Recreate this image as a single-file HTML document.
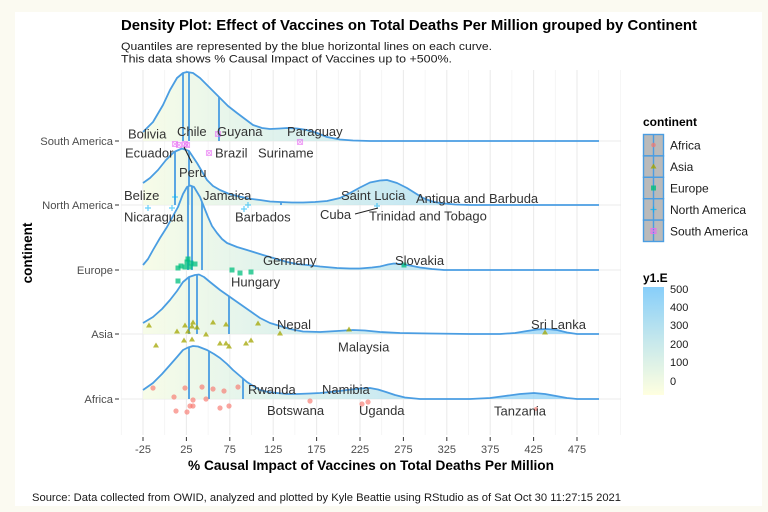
<!DOCTYPE html>
<html><head><meta charset="utf-8"><style>
html,body{margin:0;padding:0;background:#fbfaf1;}
svg{display:block;font-family:"Liberation Sans",Arial,sans-serif;}
</style></head><body>
<svg width="768" height="512" viewBox="0 0 768 512" xmlns="http://www.w3.org/2000/svg">
<defs>
<linearGradient id="fg" gradientUnits="userSpaceOnUse" x1="99" y1="0" x2="608" y2="0">
<stop offset="0" stop-color="#FFFFE0"/><stop offset="0.5" stop-color="#C6E8EC"/><stop offset="1" stop-color="#87CEFA"/>
</linearGradient>
<linearGradient id="cb" x1="0" y1="1" x2="0" y2="0">
<stop offset="0" stop-color="#FFFFE0"/><stop offset="0.5" stop-color="#C6E8EC"/><stop offset="1" stop-color="#87CEFA"/>
</linearGradient>
</defs>
<rect x="0" y="0" width="768" height="512" fill="#fbfaf1"/>
<rect x="15" y="12" width="747" height="494" fill="#ffffff"/>

<!-- grid -->
<g stroke="#f3f3f3" stroke-width="0.8">
<line x1="121.3" y1="70" x2="121.3" y2="435"/><line x1="164.7" y1="70" x2="164.7" y2="435"/><line x1="208.1" y1="70" x2="208.1" y2="435"/><line x1="251.5" y1="70" x2="251.5" y2="435"/><line x1="294.9" y1="70" x2="294.9" y2="435"/><line x1="338.3" y1="70" x2="338.3" y2="435"/><line x1="381.7" y1="70" x2="381.7" y2="435"/><line x1="425.1" y1="70" x2="425.1" y2="435"/><line x1="468.5" y1="70" x2="468.5" y2="435"/><line x1="511.9" y1="70" x2="511.9" y2="435"/><line x1="555.3" y1="70" x2="555.3" y2="435"/><line x1="598.7" y1="70" x2="598.7" y2="435"/><line x1="620.4" y1="70" x2="620.4" y2="435"/>
</g>
<g stroke="#ebebeb" stroke-width="1.1">
<line x1="143" y1="70" x2="143" y2="435"/><line x1="186.4" y1="70" x2="186.4" y2="435"/><line x1="229.8" y1="70" x2="229.8" y2="435"/><line x1="273.2" y1="70" x2="273.2" y2="435"/><line x1="316.6" y1="70" x2="316.6" y2="435"/><line x1="360" y1="70" x2="360" y2="435"/><line x1="403.4" y1="70" x2="403.4" y2="435"/><line x1="446.8" y1="70" x2="446.8" y2="435"/><line x1="490.2" y1="70" x2="490.2" y2="435"/><line x1="533.6" y1="70" x2="533.6" y2="435"/><line x1="577" y1="70" x2="577" y2="435"/>
<line x1="121" y1="141" x2="621" y2="141"/><line x1="121" y1="205" x2="621" y2="205"/><line x1="121" y1="270" x2="621" y2="270"/><line x1="121" y1="334" x2="621" y2="334"/><line x1="121" y1="399" x2="621" y2="399"/>
</g>

<!-- South America ridge -->
<g>
<path fill="url(#fg)" fill-opacity="0.8" d="M143,132 L153,122 L163,105 L170,90 L177,78 L183,73 L187,72 L193,73 L200,78 L210,88 L220,98 L228,106 L237,113 L245,119 L253,125 L262,128 L270,129 L280,128.5 L287,128 L297,128.5 L307,130 L317,133 L327,137 L340,139.5 L353,140.5 L370,141 L599,141 L143,141 Z"/>
<g stroke="#4a9de2" stroke-width="1.8"><line x1="183" y1="141" x2="183" y2="73"/><line x1="189" y1="141" x2="189" y2="72"/><line x1="219" y1="141" x2="219" y2="97"/></g>
<path fill="none" stroke="#4a9de2" stroke-width="1.8" stroke-linejoin="round" d="M143,132 L153,122 L163,105 L170,90 L177,78 L183,73 L187,72 L193,73 L200,78 L210,88 L220,98 L228,106 L237,113 L245,119 L253,125 L262,128 L270,129 L280,128.5 L287,128 L297,128.5 L307,130 L317,133 L327,137 L340,139.5 L353,140.5 L370,141 L599,141"/>
</g>
<!-- North America ridge -->
<g>
<path fill="url(#fg)" fill-opacity="0.8" d="M143,183 L150,178 L158,170 L166,160 L174,152 L182,148.5 L189,151 L197,163 L207,180 L213,186 L220,190 L228,193.5 L237,196 L248,198.5 L260,200 L270,201.5 L280,202 L292,202.5 L303,202.5 L315,202 L327,201 L340,198 L350,193 L360,187.5 L370,182.5 L380,180.5 L387,180 L397,183 L407,188 L415,193 L423,198 L432,201.5 L440,203 L455,204.5 L470,205 L599,205 L143,205 Z"/>
<g stroke="#4a9de2" stroke-width="1.8"><line x1="175" y1="205" x2="175" y2="151.5"/><line x1="189" y1="205" x2="189" y2="151"/><line x1="281" y1="205" x2="281" y2="202"/></g>
<path fill="none" stroke="#4a9de2" stroke-width="1.8" stroke-linejoin="round" d="M143,183 L150,178 L158,170 L166,160 L174,152 L182,148.5 L189,151 L197,163 L207,180 L213,186 L220,190 L228,193.5 L237,196 L248,198.5 L260,200 L270,201.5 L280,202 L292,202.5 L303,202.5 L315,202 L327,201 L340,198 L350,193 L360,187.5 L370,182.5 L380,180.5 L387,180 L397,183 L407,188 L415,193 L423,198 L432,201.5 L440,203 L455,204.5 L470,205 L599,205"/>
</g>
<!-- Europe ridge -->
<g>
<path fill="url(#fg)" fill-opacity="0.8" d="M143,265 L148,259 L153,250 L160,238 L167,227 L173,216 L178,207 L183,194 L187,187 L190,185.5 L194,187 L200,197 L204,207 L208,217 L212,226 L217,233 L222,239 L227,243 L237,247 L247,250 L255,252.5 L263,255 L275,258.5 L287,262 L297,264 L307,265 L320,266.5 L337,268 L350,268.5 L360,268.5 L372,267.5 L380,266.5 L388,264.5 L394,263.5 L400,264 L410,265.5 L420,267.5 L432,269 L444,270 L599,270 L143,270 Z"/>
<g stroke="#4a9de2" stroke-width="1.8"><line x1="188" y1="270" x2="188" y2="186.5"/><line x1="192" y1="270" x2="192" y2="186"/><line x1="202" y1="270" x2="202" y2="202"/></g>
<path fill="none" stroke="#4a9de2" stroke-width="1.8" stroke-linejoin="round" d="M143,265 L148,259 L153,250 L160,238 L167,227 L173,216 L178,207 L183,194 L187,187 L190,185.5 L194,187 L200,197 L204,207 L208,217 L212,226 L217,233 L222,239 L227,243 L237,247 L247,250 L255,252.5 L263,255 L275,258.5 L287,262 L297,264 L307,265 L320,266.5 L337,268 L350,268.5 L360,268.5 L372,267.5 L380,266.5 L388,264.5 L394,263.5 L400,264 L410,265.5 L420,267.5 L432,269 L444,270 L599,270"/>
</g>
<!-- Asia ridge -->
<g>
<path fill="url(#fg)" fill-opacity="0.8" d="M143,323 L153,317 L162,309 L170,300 L177,291 L183,282 L189,277 L195,275 L199,274.5 L204,277 L210,282 L220,290 L230,297 L240,304 L250,311 L260,318 L270,323 L280,326 L290,329 L303,331.5 L320,332 L337,331 L353,330 L365,330.5 L380,332 L400,333 L430,333.5 L470,334 L500,334 L515,333 L527,331 L537,329.5 L547,329 L557,330 L567,332.5 L577,334 L599,334 L143,334 Z"/>
<g stroke="#4a9de2" stroke-width="1.8"><line x1="189" y1="334" x2="189" y2="277"/><line x1="197" y1="334" x2="197" y2="274.5"/><line x1="229" y1="334" x2="229" y2="296.5"/></g>
<path fill="none" stroke="#4a9de2" stroke-width="1.8" stroke-linejoin="round" d="M143,323 L153,317 L162,309 L170,300 L177,291 L183,282 L189,277 L195,275 L199,274.5 L204,277 L210,282 L220,290 L230,297 L240,304 L250,311 L260,318 L270,323 L280,326 L290,329 L303,331.5 L320,332 L337,331 L353,330 L365,330.5 L380,332 L400,333 L430,333.5 L470,334 L500,334 L515,333 L527,331 L537,329.5 L547,329 L557,330 L567,332.5 L577,334 L599,334"/>
</g>
<!-- Africa ridge -->
<g>
<path fill="url(#fg)" fill-opacity="0.8" d="M143,390 L153,383 L162,374 L170,365 L177,357 L183,350 L188,347.5 L193,346 L198,346.5 L207,350 L214,354 L220,358 L227,364 L233,370 L240,376 L247,382 L254,386.5 L260,390 L268,392 L277,393 L287,394 L297,394 L310,393.5 L320,393 L335,391.5 L347,390 L360,388.5 L370,388 L378,389.5 L386,392 L395,395 L405,397.5 L420,399 L470,399 L490,398 L505,396 L520,394 L534,393 L545,394 L556,396 L567,398 L577,399 L599,399 L143,399 Z"/>
<g stroke="#4a9de2" stroke-width="1.8"><line x1="189" y1="399" x2="189" y2="347"/><line x1="209" y1="399" x2="209" y2="351"/><line x1="243" y1="399" x2="243" y2="378.5"/></g>
<path fill="none" stroke="#4a9de2" stroke-width="1.8" stroke-linejoin="round" d="M143,390 L153,383 L162,374 L170,365 L177,357 L183,350 L188,347.5 L193,346 L198,346.5 L207,350 L214,354 L220,358 L227,364 L233,370 L240,376 L247,382 L254,386.5 L260,390 L268,392 L277,393 L287,394 L297,394 L310,393.5 L320,393 L335,391.5 L347,390 L360,388.5 L370,388 L378,389.5 L386,392 L395,395 L405,397.5 L420,399 L470,399 L490,398 L505,396 L520,394 L534,393 L545,394 L556,396 L567,398 L577,399 L599,399"/>
</g>

<!-- points: Africa -->
<g fill="#F8766D" fill-opacity="0.65">
<circle cx="153" cy="388" r="2.6"/><circle cx="185" cy="388" r="2.6"/><circle cx="202" cy="387" r="2.6"/><circle cx="213" cy="389" r="2.6"/><circle cx="224" cy="391" r="2.6"/><circle cx="238" cy="387" r="2.6"/><circle cx="174" cy="397" r="2.6"/><circle cx="193" cy="400" r="2.6"/><circle cx="206" cy="399" r="2.6"/><circle cx="176" cy="411" r="2.6"/><circle cx="187" cy="412" r="2.6"/><circle cx="190" cy="406" r="2.6"/><circle cx="193" cy="406" r="2.6"/><circle cx="220" cy="408" r="2.6"/><circle cx="229" cy="406" r="2.6"/><circle cx="310" cy="401" r="2.6"/><circle cx="362" cy="404" r="2.6"/><circle cx="368" cy="402" r="2.6"/><circle cx="536" cy="409" r="2"/>
</g>
<!-- points: Asia -->
<g fill="#A3A500" fill-opacity="0.75">
<path d="M149,322.5 l3,5 h-6 z"/><path d="M185,322.5 l3,5 h-6 z"/><path d="M177,328.5 l3,5 h-6 z"/><path d="M193,319.5 l3,5 h-6 z"/><path d="M192,323.5 l3,5 h-6 z"/><path d="M197,324.5 l3,5 h-6 z"/><path d="M188,328.5 l3,5 h-6 z"/><path d="M213,319.5 l3,5 h-6 z"/><path d="M226,321.5 l3,5 h-6 z"/><path d="M206,331.5 l3,5 h-6 z"/><path d="M258,320.5 l3,5 h-6 z"/><path d="M280,330.5 l3,5 h-6 z"/><path d="M349,326.5 l3,5 h-6 z"/><path d="M156,342.5 l3,5 h-6 z"/><path d="M184,337.5 l3,5 h-6 z"/><path d="M192,336.5 l3,5 h-6 z"/><path d="M220,340.5 l3,5 h-6 z"/><path d="M226,340.5 l3,5 h-6 z"/><path d="M229,343.5 l3,5 h-6 z"/><path d="M246,340.5 l3,5 h-6 z"/><path d="M251,337.5 l3,5 h-6 z"/><path d="M545,329.5 l3,5 h-6 z"/>
</g>
<!-- points: Europe -->
<g fill="#00BF7D" fill-opacity="0.75">
<rect x="175.5" y="265.5" width="5" height="5"/><rect x="178.5" y="263.5" width="5" height="5"/><rect x="184.5" y="259.5" width="5" height="5"/><rect x="185.5" y="256.5" width="5" height="5"/><rect x="188.5" y="260.5" width="5" height="5"/><rect x="192.5" y="261.5" width="5" height="5"/><rect x="182.5" y="264.5" width="5" height="5"/><rect x="187.5" y="264.5" width="5" height="5"/><rect x="229.5" y="267.5" width="5" height="5"/><rect x="237.5" y="270.5" width="5" height="5"/><rect x="248.5" y="269.5" width="5" height="5"/><rect x="175.5" y="278.5" width="5" height="5"/><rect x="401.5" y="262.5" width="5" height="5"/>
</g>
<!-- points: North America -->
<g stroke="#00B0F6" stroke-opacity="0.6" stroke-width="1.2">
<path d="M145,208 h6 M148,205 v6"/><path d="M169,208 h6 M172,205 v6"/><path d="M172,197 h6 M175,194 v6"/><path d="M241,209 h6 M244,206 v6"/><path d="M245,205 h6 M248,202 v6"/><path d="M374,206 h6 M377,203 v6"/>
</g>
<!-- points: South America -->
<g stroke="#E76BF3" stroke-opacity="0.6" stroke-width="1.1" fill="none">
<path d="M172.5,141.5 h5 v5 h-5 z M172.5,141.5 l5,5 M177.5,141.5 l-5,5"/>
<path d="M176.5,142.5 h5 v5 h-5 z M176.5,142.5 l5,5 M181.5,142.5 l-5,5"/>
<path d="M182.5,141.5 h5 v5 h-5 z M182.5,141.5 l5,5 M187.5,141.5 l-5,5"/>
<path d="M184.5,142.5 h5 v5 h-5 z M184.5,142.5 l5,5 M189.5,142.5 l-5,5"/>
<path d="M215.5,131.5 h5 v5 h-5 z M215.5,131.5 l5,5 M220.5,131.5 l-5,5"/>
<path d="M206.5,150.5 h5 v5 h-5 z M206.5,150.5 l5,5 M211.5,150.5 l-5,5"/>
<path d="M297.5,139.5 h5 v5 h-5 z M297.5,139.5 l5,5 M302.5,139.5 l-5,5"/>
</g>

<!-- label connectors -->
<g stroke="#222" stroke-width="1.1">
<line x1="184" y1="147" x2="192" y2="163"/>
<line x1="355" y1="214" x2="378" y2="208"/>
</g>

<!-- labels -->
<g font-size="13" fill="#333">
<text x="128" y="138.5">Bolivia</text>
<text x="177" y="136">Chile</text>
<text x="217" y="136">Guyana</text>
<text x="287" y="136">Paraguay</text>
<text x="125" y="157.5">Ecuador</text>
<text x="215" y="157.5">Brazil</text>
<text x="258" y="157.5">Suriname</text>
<text x="179" y="177">Peru</text>
<text x="124" y="200">Belize</text>
<text x="203" y="200">Jamaica</text>
<text x="341" y="200">Saint Lucia</text>
<text x="416" y="203">Antigua and Barbuda</text>
<text x="124" y="221.5">Nicaragua</text>
<text x="235" y="221.5">Barbados</text>
<text x="320" y="219">Cuba</text>
<text x="369" y="220.5">Trinidad and Tobago</text>
<text x="263" y="265">Germany</text>
<text x="231" y="286.5">Hungary</text>
<text x="395" y="265">Slovakia</text>
<text x="277" y="329">Nepal</text>
<text x="338" y="351.5">Malaysia</text>
<text x="531" y="329">Sri Lanka</text>
<text x="248" y="394">Rwanda</text>
<text x="322" y="394">Namibia</text>
<text x="267" y="415">Botswana</text>
<text x="359" y="415">Uganda</text>
<text x="494" y="415.5">Tanzania</text>
</g>

<!-- axes ticks -->
<g stroke="#333" stroke-width="1">
<line x1="115" y1="141" x2="119" y2="141"/><line x1="115" y1="205" x2="119" y2="205"/><line x1="115" y1="270" x2="119" y2="270"/><line x1="115" y1="334" x2="119" y2="334"/><line x1="115" y1="399" x2="119" y2="399"/>
<line x1="143" y1="437" x2="143" y2="441"/><line x1="186.4" y1="437" x2="186.4" y2="441"/><line x1="229.8" y1="437" x2="229.8" y2="441"/><line x1="273.2" y1="437" x2="273.2" y2="441"/><line x1="316.6" y1="437" x2="316.6" y2="441"/><line x1="360" y1="437" x2="360" y2="441"/><line x1="403.4" y1="437" x2="403.4" y2="441"/><line x1="446.8" y1="437" x2="446.8" y2="441"/><line x1="490.2" y1="437" x2="490.2" y2="441"/><line x1="533.6" y1="437" x2="533.6" y2="441"/><line x1="577" y1="437" x2="577" y2="441"/>
</g>
<g font-size="11.2" fill="#4d4d4d" text-anchor="end">
<text x="113" y="145">South America</text>
<text x="113" y="209">North America</text>
<text x="113" y="274">Europe</text>
<text x="113" y="338">Asia</text>
<text x="113" y="403">Africa</text>
</g>
<g font-size="11" fill="#4d4d4d" text-anchor="middle">
<text x="143" y="453">-25</text><text x="186.4" y="453">25</text><text x="229.8" y="453">75</text><text x="273.2" y="453">125</text><text x="316.6" y="453">175</text><text x="360" y="453">225</text><text x="403.4" y="453">275</text><text x="446.8" y="453">325</text><text x="490.2" y="453">375</text><text x="533.6" y="453">425</text><text x="577" y="453">475</text>
</g>

<!-- titles -->
<text x="121" y="30" font-size="15" font-weight="bold" fill="#000" textLength="576" lengthAdjust="spacingAndGlyphs">Density Plot: Effect of Vaccines on Total Deaths Per Million grouped by Continent</text>
<text x="121" y="50" font-size="11" fill="#1a1a1a" textLength="371" lengthAdjust="spacingAndGlyphs">Quantiles are represented by the blue horizontal lines on each curve.</text>
<text x="121" y="62.5" font-size="11" fill="#1a1a1a" textLength="331" lengthAdjust="spacingAndGlyphs">This data shows % Causal Impact of Vaccines up to +500%.</text>
<text x="371" y="470" font-size="13.5" font-weight="bold" fill="#000" text-anchor="middle" textLength="366" lengthAdjust="spacingAndGlyphs">% Causal Impact of Vaccines on Total Deaths Per Million</text>
<text transform="translate(32,253) rotate(-90)" font-size="13.5" font-weight="bold" fill="#000" text-anchor="middle">continent</text>
<text x="32" y="501" font-size="11" fill="#1a1a1a" textLength="589" lengthAdjust="spacingAndGlyphs">Source: Data collected from OWID, analyzed and plotted by Kyle Beattie using RStudio as of Sat Oct 30 11:27:15 2021</text>

<!-- legend continent -->
<text x="643" y="126" font-size="12" font-weight="bold" fill="#000">continent</text>
<g stroke="#4a9de2" stroke-width="1.4" fill="#bababa">
<rect x="643.5" y="134.5" width="20" height="21.4"/>
<rect x="643.5" y="155.9" width="20" height="21.4"/>
<rect x="643.5" y="177.3" width="20" height="21.4"/>
<rect x="643.5" y="198.7" width="20" height="21.4"/>
<rect x="643.5" y="220.1" width="20" height="21.4"/>
<line x1="653.5" y1="134.5" x2="653.5" y2="241.5"/>
</g>
<circle cx="653.5" cy="145" r="2.3" fill="#F8766D" fill-opacity="0.7"/>
<path d="M653.5,163.5 l3,5 h-6 z" fill="#A3A500" fill-opacity="0.8"/>
<rect x="651" y="185.5" width="5" height="5" fill="#00BF7D" fill-opacity="0.8"/>
<path d="M650.5,209.5 h6 M653.5,206.5 v6" stroke="#00B0F6" stroke-width="1.2" stroke-opacity="0.7"/>
<path d="M651,228.5 h5 v5 h-5 z M651,228.5 l5,5 M656,228.5 l-5,5" stroke="#E76BF3" stroke-width="1.1" fill="none" stroke-opacity="0.8"/>
<g font-size="12" fill="#1a1a1a">
<text x="670" y="149.5">Africa</text>
<text x="670" y="171">Asia</text>
<text x="670" y="192.5">Europe</text>
<text x="670" y="214">North America</text>
<text x="670" y="235.5">South America</text>
</g>

<!-- legend y1.E -->
<text x="643" y="282" font-size="12" font-weight="bold" fill="#000">y1.E</text>
<rect x="643" y="287" width="21" height="108" fill="url(#cb)"/>
<g font-size="11" fill="#1a1a1a">
<text x="670" y="293">500</text>
<text x="670" y="311">400</text>
<text x="670" y="329">300</text>
<text x="670" y="348">200</text>
<text x="670" y="366">100</text>
<text x="670" y="385">0</text>
</g>
</svg>
</body></html>
